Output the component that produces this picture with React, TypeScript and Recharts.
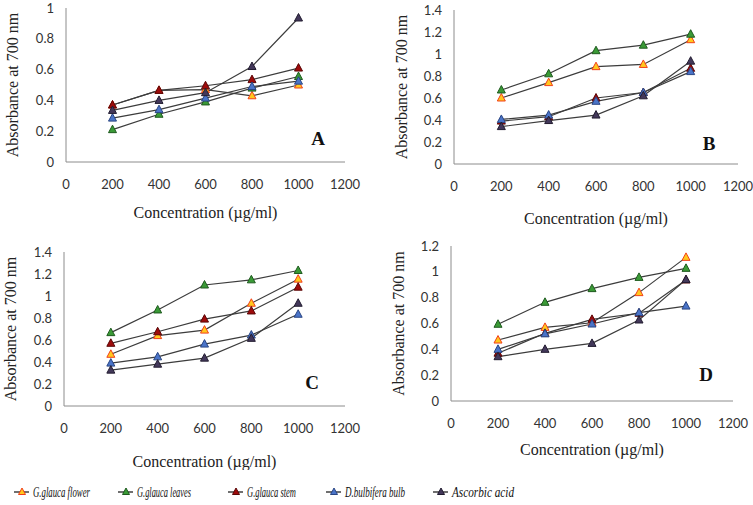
import { LineChart, Line, XAxis, YAxis } from 'recharts'

// concentrations (µg/ml)
const concentrations = [200, 400, 600, 800, 1000]

// panel A
const flowerA = [0.37, 0.465, 0.47, 0.43, 0.5]
const leavesA = [0.21, 0.31, 0.39, 0.48, 0.555]
const stemA = [0.37, 0.465, 0.495, 0.535, 0.61]
const bulbA = [0.285, 0.34, 0.415, 0.49, 0.525]
const ascorbicA = [0.335, 0.4, 0.45, 0.62, 0.935]

// panel B
const flowerB = [0.6, 0.74, 0.885, 0.905, 1.13]
const leavesB = [0.673, 0.82, 1.03, 1.08, 1.18]
const stemB = [0.39, 0.43, 0.6, 0.65, 0.87]
const bulbB = [0.405, 0.445, 0.57, 0.65, 0.84]
const ascorbicB = [0.34, 0.395, 0.445, 0.62, 0.935]

// panel C
const flowerC = [0.47, 0.64, 0.69, 0.934, 1.153]
const leavesC = [0.667, 0.873, 1.1, 1.147, 1.232]
const stemC = [0.57, 0.675, 0.79, 0.864, 1.08]
const bulbC = [0.39, 0.447, 0.563, 0.645, 0.834]
const ascorbicC = [0.326, 0.38, 0.435, 0.615, 0.934]

// panel D
const flowerD = [0.472, 0.57, 0.606, 0.839, 1.112]
const leavesD = [0.594, 0.764, 0.87, 0.957, 1.027]
const stemD = [0.37, 0.524, 0.632, 0.679, 0.937]
const bulbD = [0.4, 0.52, 0.596, 0.684, 0.735]
const ascorbicD = [0.343, 0.4, 0.446, 0.627, 0.94]

const xTicks = [0, 200, 400, 600, 800, 1000, 1200]
const yTicks10 = [0, 0.2, 0.4, 0.6, 0.8, 1]
const yTicks12 = [0, 0.2, 0.4, 0.6, 0.8, 1, 1.2]
const yTicks14 = [0, 0.2, 0.4, 0.6, 0.8, 1, 1.2, 1.4]

const series = [
  { key: 'flower', name: 'G.glauca flower', fill: '#FFC81E', stroke: '#F2401A' },
  { key: 'leaves', name: 'G.glauca leaves', fill: '#3A9A36', stroke: '#1E5A1E' },
  { key: 'stem', name: 'G.glauca stem', fill: '#9E0B0B', stroke: '#5A0606' },
  { key: 'bulb', name: 'D.bulbifera bulb', fill: '#4A74C8', stroke: '#2A4684' },
  { key: 'ascorbic', name: 'Ascorbic acid', fill: '#43385A', stroke: '#221C30' },
]

const makeRows = (fl: number[], lv: number[], st: number[], bb: number[], as: number[]) =>
  concentrations.map((c, i) => ({
    conc: c,
    flower: fl[i],
    leaves: lv[i],
    stem: st[i],
    bulb: bb[i],
    ascorbic: as[i],
  }))

const panels = [
  {
    letter: 'A', rows: makeRows(flowerA, leavesA, stemA, bulbA, ascorbicA), yMax: 1, yTicks: yTicks10,
    x: 0, y: 0, w: 376, h: 230, margin: { top: 8, right: 31, left: 0, bottom: 12 }, yW: 66, xH: 56,
    yLabelX: 12, letterX: 318, letterY: 138,
  },
  {
    letter: 'B', rows: makeRows(flowerB, leavesB, stemB, bulbB, ascorbicB), yMax: 1.4, yTicks: yTicks14,
    x: 376, y: 0, w: 377, h: 230, margin: { top: 10, right: 15, left: 0, bottom: 6 }, yW: 78, xH: 60,
    yLabelX: 25, letterX: 709, letterY: 143,
  },
  {
    letter: 'C', rows: makeRows(flowerC, leavesC, stemC, bulbC, ascorbicC), yMax: 1.4, yTicks: yTicks14,
    x: 0, y: 230, w: 376, h: 240, margin: { top: 22, right: 31, left: 0, bottom: 3 }, yW: 64, xH: 61,
    yLabelX: 10, letterX: 312, letterY: 382,
  },
  {
    letter: 'D', rows: makeRows(flowerD, leavesD, stemD, bulbD, ascorbicD), yMax: 1.2, yTicks: yTicks12,
    x: 376, y: 230, w: 377, h: 240, margin: { top: 16, right: 20, left: 0, bottom: 15 }, yW: 75, xH: 54,
    yLabelX: 22, letterX: 706, letterY: 374,
  },
]

const serif = '"Liberation Serif", "Times New Roman", serif'
const tickStyle = { fontSize: 13, fill: '#333', fontFamily: 'Lato, sans-serif' }

const triangle = (fill: string, stroke: string) => (props: any) => {
  const { cx, cy, index } = props
  if (cx == null || cy == null) return <g key={index} />
  return (
    <polygon
      key={index}
      points={`${cx},${cy - 4.5} ${cx - 4},${cy + 3} ${cx + 4},${cy + 3}`}
      fill={fill}
      stroke={stroke}
      strokeWidth={1}
    />
  )
}

function Panel({ p }: { p: (typeof panels)[number] }) {
  return (
    <div style={{ position: 'absolute', left: p.x, top: p.y }}>
      <LineChart width={p.w} height={p.h} data={p.rows} margin={p.margin}>
        <XAxis
          dataKey="conc"
          type="number"
          domain={[0, 1200]}
          ticks={xTicks}
          tickSize={0}
          tickMargin={18}
          tickLine={false}
          axisLine={{ stroke: '#8c8c8c' }}
          tick={tickStyle}
          height={p.xH}
          label={{
            value: 'Concentration (µg/ml)',
            position: 'insideBottom',
            offset: 0,
            style: { fontSize: 16, fill: '#222', fontFamily: serif },
          }}
        />
        <YAxis
          type="number"
          domain={[0, p.yMax]}
          ticks={p.yTicks}
          width={p.yW}
          tickSize={0}
          tickMargin={12}
          tickLine={false}
          axisLine={{ stroke: '#8c8c8c' }}
          tick={tickStyle}
          label={{
            value: 'Absorbance at 700 nm',
            angle: -90,
            position: 'insideLeft',
            offset: p.yLabelX,
            style: { fontSize: 16, fill: '#222', fontFamily: serif, textAnchor: 'middle' },
          }}
        />
        {series.map(s => (
          <Line
            key={s.key}
            dataKey={s.key}
            name={s.name}
            stroke="#3c3c3c"
            strokeWidth={1.2}
            dot={triangle(s.fill, s.stroke)}
            activeDot={false}
            isAnimationActive={false}
          />
        ))}
      </LineChart>
    </div>
  )
}

// legend layout: line start and text width of each item
const legendX = [14, 118, 228, 326, 433]
const legendTextW = [57, 54, 49, 60, 62]

function Legend() {
  return (
    <svg width={753} height={25} style={{ position: 'absolute', left: 0, top: 480 }}>
      {series.map((s, i) => {
        const x = legendX[i]
        const cy = 12
        const mx = x + 8
        return (
          <g key={s.key}>
            <line x1={x} x2={x + 15} y1={cy} y2={cy} stroke="#222" strokeWidth={1.3} />
            <polygon
              points={`${mx},${cy - 4} ${mx - 3.5},${cy + 2.5} ${mx + 3.5},${cy + 2.5}`}
              fill={s.fill}
              stroke={s.stroke}
              strokeWidth={1}
            />
            <text
              x={x + 19}
              y={cy + 4.5}
              fontSize={14.5}
              fontStyle="italic"
              fontFamily={serif}
              fill="#111"
              textLength={legendTextW[i]}
              lengthAdjust="spacingAndGlyphs"
            >
              {s.name}
            </text>
          </g>
        )
      })}
    </svg>
  )
}

export default function App() {
  return (
    <div style={{ position: 'absolute', left: 0, top: 0, width: 753, height: 505, background: '#fff' }}>
      {panels.map(p => (
        <Panel key={p.letter} p={p} />
      ))}
      {panels.map(p => (
        <div
          key={'l' + p.letter}
          style={{
            position: 'absolute',
            left: p.letterX,
            top: p.letterY,
            transform: 'translate(-50%, -50%)',
            fontFamily: serif,
            fontWeight: 'bold',
            fontSize: 19,
            color: '#111',
            lineHeight: 1,
          }}
        >
          {p.letter}
        </div>
      ))}
      <Legend />
    </div>
  )
}
